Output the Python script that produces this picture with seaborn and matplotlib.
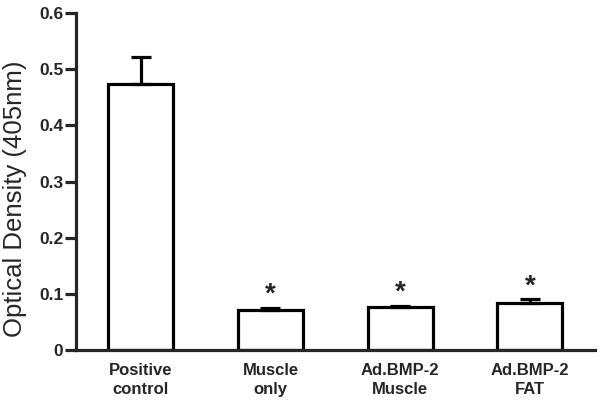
import matplotlib
matplotlib.use('Agg')
import matplotlib.pyplot as plt
import seaborn as sns
import pandas as pd

# data
groups = ['Positive\ncontrol', 'Muscle\nonly', 'Ad.BMP-2\nMuscle', 'Ad.BMP-2\nFAT']
means = [0.473, 0.072, 0.077, 0.084]
errors = [0.048, 0.003, 0.002, 0.006]
significant = [False, True, True, True]

sns.set_style('ticks')
plt.rcParams['font.family'] = ['Liberation Sans', 'DejaVu Sans']

df = pd.DataFrame({'group': groups, 'od': means})

fig = plt.figure(figsize=(6.02, 4.07), dpi=100)
ax = fig.add_axes([0.126, 0.14, 0.862, 0.828])

sns.barplot(data=df, x='group', y='od', ax=ax, color='white',
            edgecolor='black', linewidth=2.3, width=0.5, errorbar=None)

# one-sided error bars (upwards only)
ax.errorbar(range(len(groups)), means, yerr=[[0] * len(errors), errors],
            fmt='none', ecolor='black', elinewidth=2.3, capsize=7, capthick=2.3)

for i, (m, e, s) in enumerate(zip(means, errors, significant)):
    if s:
        ax.annotate('*', (i, m + e), xytext=(0, 0), textcoords='offset points',
                    ha='center', va='bottom', fontsize=20, fontweight='bold')

ax.set_xlim(-0.5, 3.5)
ax.set_ylim(0, 0.6)
ax.set_yticks([0, 0.1, 0.2, 0.3, 0.4, 0.5, 0.6])
ax.set_yticklabels(['0', '0.1', '0.2', '0.3', '0.4', '0.5', '0.6'])
ax.set_xlabel('')
ax.set_ylabel('Optical Density (405nm)', fontsize=18.5)
ax.yaxis.set_label_coords(-0.094, 0.45)
ax.tick_params(axis='y', width=2.3, length=8, labelsize=12.5, pad=1)
ax.tick_params(axis='x', length=0, labelsize=12, pad=9)
for lab in ax.get_xticklabels():
    lab.set_fontweight('bold')
    lab.set_linespacing(1.35)
for lab in ax.get_yticklabels():
    lab.set_fontweight('bold')

for side in ['top', 'right']:
    ax.spines[side].set_visible(False)
ax.spines['left'].set_linewidth(2.3)
ax.spines['bottom'].set_linewidth(2.3)

plt.savefig('out.png', dpi=100)
